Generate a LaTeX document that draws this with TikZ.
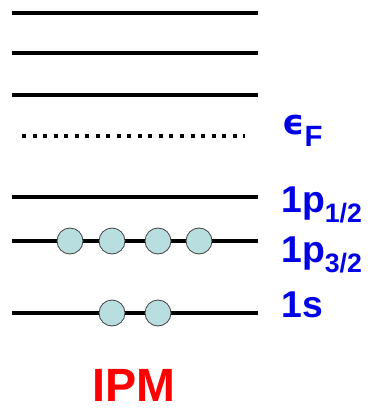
\documentclass[tikz,border=0pt]{standalone}
\usepackage{fontspec}
\setmainfont{Liberation Sans}
\newfontfamily\symfont{DejaVu Sans}
\definecolor{lblblue}{RGB}{0,0,230}
\definecolor{ipmred}{RGB}{255,0,0}
\definecolor{nucfill}{RGB}{184,222,224}
\newcommand{\subtxt}[2][20]{\raisebox{-8pt}{\fontsize{#1}{#1}\selectfont #2}}
\tikzset{
  level/.style={line width=2.3pt},
  fermi/.style={line width=3pt,dash pattern=on 3pt off 4.9pt},
  nucleon/.style={circle,draw=black!75,line width=0.6pt,fill=nucfill,minimum size=19.5pt,inner sep=0pt},
  lbl/.style={anchor=base west,inner sep=0pt,text=lblblue,font=\bfseries\fontsize{28}{32}\selectfont}
}
\begin{document}
\begin{tikzpicture}[x=0.75pt,y=-0.75pt]
\useasboundingbox (0,0) rectangle (372,409);
% empty levels
\coordinate (aL) at (12,13);  \coordinate (aR) at (258,13);
\coordinate (bL) at (12,53);  \coordinate (bR) at (258,53);
\coordinate (cL) at (12,95);  \coordinate (cR) at (258,95);
\draw[level] (aL) -- (aR);
\draw[level] (bL) -- (bR);
\draw[level] (cL) -- (cR);
% Fermi level
\coordinate (fL) at (22,136);
\coordinate (fR) at (245,136);
\draw[fermi] (fL) -- (fR);
\node[lbl] (eF) at (282,135) {{\symfont\fontsize{26}{28}\selectfont ϵ}\raisebox{-9pt}{\fontsize{22}{24}\selectfont F}};
% bound levels
\coordinate (pHL) at (12,197);  \coordinate (pHR) at (258,197);
\coordinate (pTL) at (12,241);  \coordinate (pTR) at (258,241);
\coordinate (sL) at (12,313);   \coordinate (sR) at (258,313);
\draw[level] (pHL) -- (pHR);
\draw[level] (pTL) -- (pTR);
\draw[level] (sL) -- (sR);
% nucleons
\node[nucleon] (p1) at (70,241) {};
\node[nucleon] (p2) at (112,241) {};
\node[nucleon] (p3) at (158,241) {};
\node[nucleon] (p4) at (199,241) {};
\node[nucleon] (s1) at (112,313) {};
\node[nucleon] (s2) at (158,313) {};
% labels
\node[lbl] (l1) at (281,212) {1p\subtxt{1/2}};
\node[lbl] (l2) at (281,262) {1p\subtxt{3/2}};
\node[lbl] (l3) at (281,317) {1s};
\node[anchor=base west,inner sep=0pt,text=ipmred,font=\bfseries\fontsize{35}{40}\selectfont] (ipm) at (92,401) {IPM};
\end{tikzpicture}
\end{document}
